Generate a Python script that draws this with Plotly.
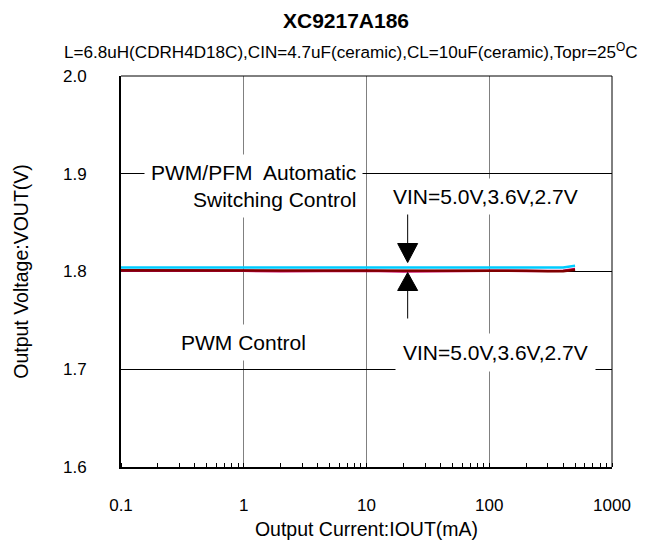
import plotly.graph_objects as go

# Data
iout_ma = [0.1, 0.2, 0.5, 1, 2, 5, 10, 20, 50, 100, 200, 300, 400, 500]
vout_27 = [1.8040, 1.8040, 1.8040, 1.8040, 1.8040, 1.8040, 1.8040, 1.8040, 1.8040, 1.8040, 1.8040, 1.8040, 1.8042, 1.8058]
vout_36 = [1.8010, 1.8010, 1.8008, 1.8008, 1.8002, 1.8008, 1.8008, 1.8000, 1.8008, 1.8008, 1.8006, 1.8004, 1.8008, 1.8025]
vout_50 = [1.8012, 1.8012, 1.8012, 1.8012, 1.8012, 1.8012, 1.8012, 1.8012, 1.8012, 1.8012, 1.8008, 1.8002, 1.8002, 1.8018]
series_names = ["VIN=2.7V", "VIN=3.6V", "VIN=5.0V"]
series_colors = ["#00CCFF", "#CC0066", "#800000"]
x_ticks = [0.1, 1, 10, 100, 1000]
x_tick_labels = ["0.1", "1", "10", "100", "1000"]
y_ticks = [1.6, 1.7, 1.8, 1.9, 2.0]

FONT = "Arial, Liberation Sans, sans-serif"

W, H = 646, 541
L, T = 109, 68
B = H - 470
R = W - 604
PH = H - T - B

fig = go.Figure()
for name, ys, col in zip(series_names, [vout_27, vout_36, vout_50], series_colors):
    fig.add_trace(go.Scatter(x=iout_ma, y=ys, mode="lines", name=name,
                             line=dict(color=col, width=2.5), showlegend=False))

fig.update_layout(
    width=W, height=H,
    margin=dict(l=L, r=R, t=T, b=B),
    paper_bgcolor="white", plot_bgcolor="white",
    font=dict(family=FONT, size=17, color="black"),
    title=dict(text="<b>XC9217A186</b>", x=(346 - 8) / W, xanchor="center", y=1 - 13 / H,
               yanchor="middle", font=dict(size=21, family=FONT)),
    showlegend=False,
)

fig.update_xaxes(
    type="log", range=[-1, 3],
    tickvals=x_ticks, ticktext=x_tick_labels,
    ticks="", ticklabelstandoff=22,
    showgrid=True, gridcolor="#808080", gridwidth=1,
    showline=True, linecolor="black", linewidth=2,
    minor=dict(ticks="inside", ticklen=4, tickcolor="black", dtick="D1", showgrid=False),
    title=dict(text="Output Current:IOUT(mA)", standoff=8, font=dict(size=19.5)),
    zeroline=False,
)
fig.update_yaxes(
    range=[1.6, 2.0], tickvals=y_ticks, tickformat=".1f",
    ticks="", ticklabelstandoff=29,
    showgrid=True, gridcolor="black", gridwidth=1,
    showline=True, linecolor="black", linewidth=2,
    title=dict(text="Output Voltage:VOUT(V)", standoff=29, font=dict(size=19.5)),
    zeroline=False,
)

# top / right frame (thin)
fig.add_shape(type="line", xref="paper", yref="paper", x0=0, x1=1, y0=1, y1=1,
              line=dict(color="black", width=1))
fig.add_shape(type="line", xref="paper", yref="paper", x0=1, x1=1, y0=0, y1=1,
              line=dict(color="black", width=1))

# subtitle
fig.add_annotation(xref="paper", yref="paper", x=(349 - 117) / 495, y=1 + 26 / PH,
                   xanchor="center", yanchor="middle",
                   text="L=6.8uH(CDRH4D18C),CIN=4.7uF(ceramic),CL=10uF(ceramic),Topr=25<sup>O</sup>C",
                   showarrow=False, font=dict(size=17.1))

# text labels with white boxes
labels = [
    ("PWM/PFM  Automatic<br>Switching Control", 251, 1.8875, 6, "right"),
    ("VIN=5.0V,3.6V,2.7V", 484, 1.877, 6, "center"),
    ("PWM Control", 241, 1.727, 6, "center"),
    ("VIN=5.0V,3.6V,2.7V", 495, 1.717, 7, "center"),
]
for txt, px, yv, pad, al in labels:
    fig.add_annotation(xref="paper", yref="y", x=(px - 117) / 495, y=yv,
                       xanchor="center", yanchor="middle", align=al,
                       text=txt, showarrow=False, bgcolor="white",
                       borderpad=pad, font=dict(size=21))

# arrows
ax_paper = (406 - 117) / 495
for stem, head in [("M0,61 L0,28", "M-10,28 L10,28 L0,9 Z"),
                   ("M0,-47 L0,-19", "M-10,-19 L10,-19 L0,-1 Z")]:
    fig.add_shape(type="path", xref="paper", yref="y", xsizemode="pixel", ysizemode="pixel",
                  xanchor=ax_paper, yanchor=1.8, path=stem, line=dict(color="black", width=1))
    fig.add_shape(type="path", xref="paper", yref="y", xsizemode="pixel", ysizemode="pixel",
                  xanchor=ax_paper, yanchor=1.8, path=head, fillcolor="black",
                  line=dict(color="black", width=1))

fig.write_html("out.html")
